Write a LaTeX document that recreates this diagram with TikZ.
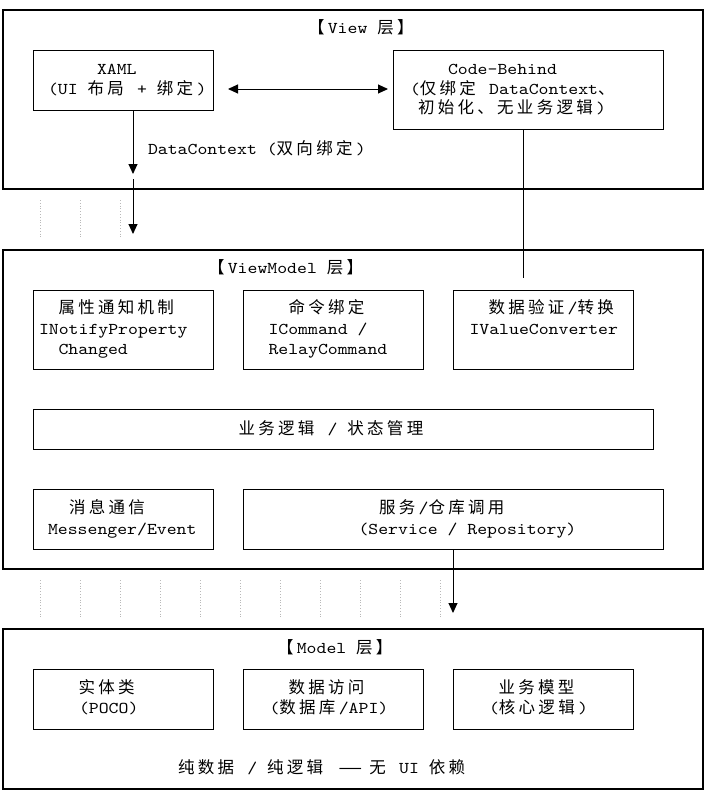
\documentclass[tikz,border=0pt]{standalone}
\usepackage{fontspec}
\setmonofont{lmmono10-regular.otf}[FakeStretch=1.143]
\newfontfamily\zhfont[LetterSpace=20]{Noto Sans CJK SC}
\newfontfamily\dashfont{DejaVu Sans}
\newcommand\zh[1]{{\zhfont #1}\kern3.3pt\relax}
\usetikzlibrary{arrows.meta,calc}
\begin{document}
\begin{tikzpicture}[x=1pt,y=-1pt,
  font=\ttfamily\fontsize{16.5}{20}\selectfont,
  layerbox/.style={draw, line width=1.2pt, inner sep=0, outer sep=0},
  itembox/.style={draw, line width=1pt, inner sep=0, outer sep=0},
  txt/.style={anchor=base west, inner sep=0, outer sep=0},
  arr/.style={-{Triangle[length=10pt,width=9pt]}, line width=1pt},
  biarr/.style={{Triangle[length=10pt,width=9pt]}-{Triangle[length=10pt,width=9pt]}, line width=1pt},
  plain/.style={line width=1pt},
  dots/.style={draw=gray!55, dotted, line width=0.8pt}]
\useasboundingbox (0,0) rectangle (716,796);

% ---------- View layer ----------
\node[layerbox, minimum width=700pt, minimum height=179pt] (view) at (353,99.5) {};
\node[itembox, minimum width=180pt, minimum height=60pt] (xaml) at (123,80) {};
\node[itembox, minimum width=270pt, minimum height=79pt] (cb) at (528,89.5) {};

\node[txt] (tview) at (308,33.5) {\zh{【}View \zh{层】}};
\node[txt] (txaml1) at (97,74.5) {XAML};
\node[txt] (txaml2) at (48,94.5) {(UI \zh{布局} + \zh{绑定})};
\node[txt] (tcb1) at (448,74.5) {Code-Behind};
\node[txt] (tcb2) at (410,94.5) {(\zh{仅绑定} DataContext\zh{、}};
\node[txt] (tcb3) at (418,113.5) {\zh{初始化、无业务逻辑})};
\node[txt] (tdc) at (148,154) {DataContext (\zh{双向绑定})};

% ---------- ViewModel layer ----------
\node[layerbox, minimum width=700pt, minimum height=319pt] (vm) at (353,409.5) {};
\node[itembox, minimum width=180pt, minimum height=79pt] (notify) at (123,329.5) {};
\node[itembox, minimum width=180pt, minimum height=79pt] (cmd) at (333,329.5) {};
\node[itembox, minimum width=180pt, minimum height=79pt] (conv) at (543,329.5) {};
\node[itembox, minimum width=620pt, minimum height=40pt] (biz) at (343,429) {};
\node[itembox, minimum width=180pt, minimum height=60pt] (msg) at (123,519) {};
\node[itembox, minimum width=420pt, minimum height=60pt] (svc) at (453,519) {};

\node[txt] (tvm) at (208,273.5) {\zh{【}ViewModel \zh{层】}};
\node[txt] (tn1) at (58.5,313.5) {\zh{属性通知机制}};
\node[txt] (tn2) at (39,334) {INotifyProperty};
\node[txt] (tn3) at (58.5,354) {Changed};
\node[txt] (tc1) at (288.5,313.5) {\zh{命令绑定}};
\node[txt] (tc2) at (268.5,334) {ICommand /};
\node[txt] (tc3) at (268.5,354) {RelayCommand};
\node[txt] (tv1) at (488.5,313.5) {\zh{数据验证}/\zh{转换}};
\node[txt] (tv2) at (469.5,334) {IValueConverter};
\node[txt] (tb) at (238.5,434) {\zh{业务逻辑} / \zh{状态管理}};
\node[txt] (tm1) at (69,513.5) {\zh{消息通信}};
\node[txt] (tm2) at (48,534) {Messenger/Event};
\node[txt] (ts1) at (379,513.5) {\zh{服务}/\zh{仓库调用}};
\node[txt] (ts2) at (358.5,534) {(Service / Repository)};

% ---------- Model layer ----------
\node[layerbox, minimum width=700pt, minimum height=160pt] (model) at (353,709) {};
\node[itembox, minimum width=180pt, minimum height=60pt] (ent) at (123,699) {};
\node[itembox, minimum width=180pt, minimum height=60pt] (dao) at (333,699) {};
\node[itembox, minimum width=180pt, minimum height=60pt] (bm) at (543,699) {};

\node[txt] (tmodel) at (277,653.5) {\zh{【}Model \zh{层】}};
\node[txt] (te1) at (78.5,693.5) {\zh{实体类}};
\node[txt] (te2) at (79,713.5) {(POCO)};
\node[txt] (td1) at (288.5,693.5) {\zh{数据访问}};
\node[txt] (td2) at (269.5,713.5) {(\zh{数据库}/API)};
\node[txt] (tb1) at (498.5,693.5) {\zh{业务模型}};
\node[txt] (tb2) at (489,713.5) {(\zh{核心逻辑})};
\node[txt] (tfoot) at (178,773.5) {\zh{纯数据} / \zh{纯逻辑} \makebox[33pt][l]{\hspace{2pt}\resizebox{24pt}{\height}{\dashfont —}}\zh{无} UI \zh{依赖}};

% ---------- connectors ----------
\coordinate (dc1) at (133,174);
\coordinate (dc2) at (133,179);
\coordinate (dc3) at (133,234);
\coordinate (cbend) at (523,278);
\coordinate (svcend) at (453,613);

\draw[biarr] ($(xaml.east)+(15,9)$) -- ($(cb.west)+(-5,-0.5)$);
\draw[arr] (xaml.south -| dc1) -- (dc1);
\draw[arr] (dc2) -- (dc3);
\draw[plain] (cb.south -| cbend) -- (cbend);
\draw[arr] (svc.south) -- (svcend);

% ---------- faint dotted guide lines ----------
\foreach \x in {40,80,120} \draw[dots] (\x,200) -- (\x,237);
\foreach \x in {40,80,...,440} \draw[dots] (\x,580) -- (\x,618);
\end{tikzpicture}
\end{document}
